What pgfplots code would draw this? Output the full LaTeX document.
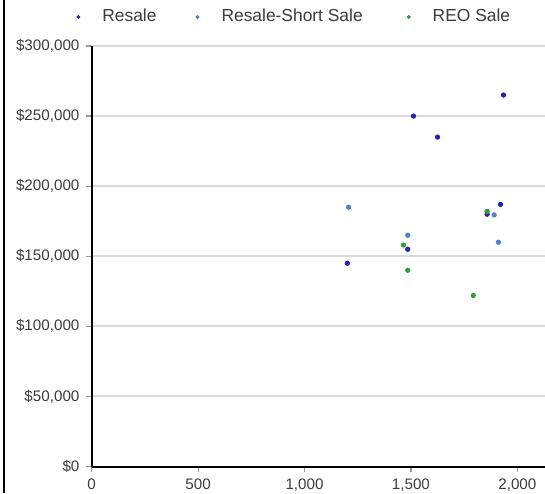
\documentclass[border=0pt]{standalone}
\usepackage{fontspec}
\setmainfont{Liberation Sans}
\usepackage{pgfplots}
\pgfplotsset{compat=1.18}

\definecolor{resale}{HTML}{2222B4}
\definecolor{shortsale}{HTML}{4F84CC}
\definecolor{reo}{HTML}{2F9E3A}
\definecolor{gridgray}{HTML}{DADADA}
\definecolor{labelgray}{HTML}{3C3C3C}
\definecolor{tickgray}{HTML}{9A9A9A}

\begin{document}
\begin{tikzpicture}
% visible area of the chart
\clip (0pt,0pt) rectangle (272.5pt,246.5pt);
\fill[white] (0pt,0pt) rectangle (272.5pt,246.5pt);
\begin{axis}[
  at={(45.85pt,13.25pt)}, anchor=south west,
  scale only axis, width=226.65pt, height=210.25pt,
  xmin=0, xmax=2130, ymin=0, ymax=300000,
  axis x line*=bottom, axis y line*=left,
  axis line style={black, line width=1pt, -},
  xtick={0,500,1000,1500,2000},
  ytick={0,50000,100000,150000,200000,250000,300000},
  scaled x ticks=false, scaled y ticks=false,
  /pgf/number format/.cd, fixed, 1000 sep={,}, assume math mode=true,
  /pgfplots/.cd,
  yticklabel={\$\pgfmathprintnumber{\tick}},
  ymajorgrids, grid style={gridgray, line width=1pt},
  tick align=outside, major tick length=2.6pt,
  tick style={tickgray, line width=0.6pt},
  ticklabel style={font=\fontsize{7.6pt}{8.5pt}\selectfont, text=labelgray},
  clip=false,
  legend columns=3,
  legend image code/.code={%
    \path[draw=none, fill=none] (-3pt,-2pt) rectangle (10pt,2pt);
    \draw[#1, mark size=0.75pt] plot coordinates {(0pt,0pt)};},
  legend style={draw=none, fill=none, inner sep=0pt,
    at={(axis description cs:-0.0435,1.069)}, anchor=west,
    font=\fontsize{8.7pt}{10pt}\selectfont, text=labelgray,
    /tikz/column 2/.style={column sep=15.5pt},
    /tikz/column 4/.style={column sep=18pt}},
]
\addplot[only marks, mark=*, mark size=1.1pt, color=resale] coordinates {
  (1935,265000) (1512,250000) (1625,235000) (1921,187000)
  (1858,180000) (1485,155000) (1201,145000)
};
\addlegendentry{Resale}
\addplot[only marks, mark=*, mark size=1.1pt, color=shortsale] coordinates {
  (1207,185000) (1891,179500) (1485,165000) (1911,160000)
};
\addlegendentry{Resale-Short Sale}
\addplot[only marks, mark=*, mark size=1.1pt, color=reo] coordinates {
  (1858,182000) (1465,158000) (1485,140000) (1793,122000)
};
\addlegendentry{REO Sale}
\end{axis}
% frame edge on the left
\draw[black, line width=1.3pt] (2pt,0pt) -- (2pt,246.5pt);
\end{tikzpicture}
\end{document}
